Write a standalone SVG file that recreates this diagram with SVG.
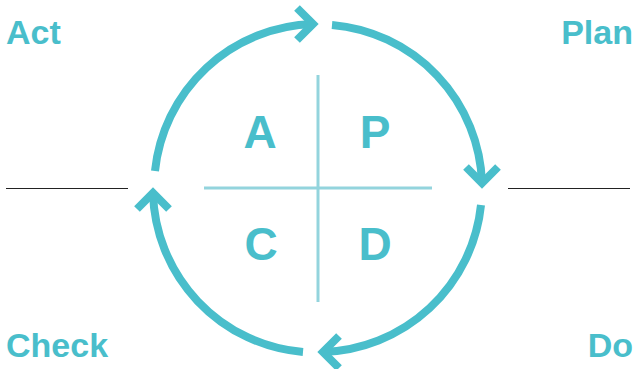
<svg xmlns="http://www.w3.org/2000/svg" width="635" height="369" viewBox="0 0 635 369">
<style>
.arc{fill:none;stroke:#49BECB;stroke-width:8;stroke-linecap:butt}
.head{fill:none;stroke:#49BECB;stroke-width:8;stroke-linejoin:miter;stroke-linecap:butt}
.grid{stroke:#93D4DD;stroke-width:3}
.rule{stroke:#222;stroke-width:1}
.big{font-family:"Liberation Sans",Arial,sans-serif;font-weight:bold;font-size:46px;fill:#49BECB;text-anchor:middle}
.lbl{font-family:"Liberation Sans",Arial,sans-serif;font-weight:bold;font-size:34px;fill:#49BECB}
</style>
<rect width="635" height="369" fill="#fff"/>
<g id="cross">
<line class="grid" x1="318" y1="75" x2="318" y2="302"/>
<line class="grid" x1="204" y1="188" x2="432" y2="188"/>
</g>
<g id="rules">
<line class="rule" x1="6" y1="188.5" x2="128" y2="188.5"/>
<line class="rule" x1="508" y1="188.5" x2="630" y2="188.5"/>
</g>
<g id="connectors">
<path class="arc" d="M155 171 A164 164 0 0 1 313 24"/>
<path class="head" d="M297 8 L313 24 L297 40"/>
<path class="arc" d="M332 25 A164 164 0 0 1 482 183"/>
<path class="head" d="M466 167 L482 183 L498 167"/>
<path class="arc" d="M481 205 A164 164 0 0 1 323 352"/>
<path class="head" d="M339 336 L323 352 L339 368"/>
<path class="arc" d="M303 352 A164 164 0 0 1 153 193"/>
<path class="head" d="M137 209 L153 193 L169 209"/>
</g>
<g id="node-A"><text class="big" x="260" y="148">A</text></g>
<g id="node-P"><text class="big" x="375" y="148">P</text></g>
<g id="node-C"><text class="big" x="261" y="260">C</text></g>
<g id="node-D"><text class="big" x="375" y="260">D</text></g>
<g id="label-act"><text class="lbl" x="6" y="44">Act</text></g>
<g id="label-plan"><text class="lbl" x="633" y="44" text-anchor="end">Plan</text></g>
<g id="label-check"><text class="lbl" x="6" y="357">Check</text></g>
<g id="label-do"><text class="lbl" x="633" y="357" text-anchor="end">Do</text></g>
</svg>
